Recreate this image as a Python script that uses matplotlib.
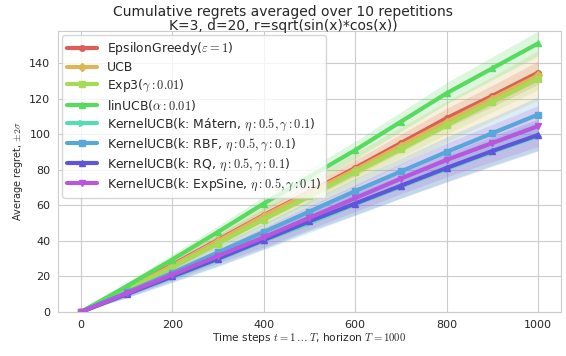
import matplotlib
matplotlib.use('Agg')
import matplotlib.pyplot as plt
import numpy as np
import seaborn as sns

steps = [0, 100, 200, 300, 400, 500, 600, 700, 800, 900, 1000]

labels = [
    r"EpsilonGreedy($\varepsilon=1$)",
    r"UCB",
    r"Exp3($\gamma:0.01$)",
    r"linUCB($\alpha:0.01$)",
    r"KernelUCB(k: Mátern, $\eta:0.5, \gamma:0.1$)",
    r"KernelUCB(k: RBF, $\eta:0.5, \gamma:0.1$)",
    r"KernelUCB(k: RQ, $\eta:0.5, \gamma:0.1$)",
    r"KernelUCB(k: ExpSine, $\eta:0.5, \gamma:0.1$)",
]
markers = ['o', 'D', 's', '^', '>', 's', '^', 'v']

# mean regret per algorithm
eps_greedy = [0, 13.0, 26.5, 40.5, 54.5, 67.5, 81.0, 95.0, 109.0, 121.5, 134.5]
ucb        = [0, 12.8, 26.0, 40.0, 54.0, 67.0, 80.0, 93.5, 107.0, 120.0, 133.0]
exp3       = [0, 12.5, 25.0, 38.5, 52.0, 65.0, 78.5, 91.5, 105.0, 118.0, 131.0]
linucb     = [0, 14.5, 29.5, 45.0, 61.0, 76.0, 91.0, 107.0, 123.0, 137.0, 151.0]
k_matern   = [0, 10.0, 19.5, 29.5, 40.0, 50.0, 60.5, 70.5, 80.5, 90.0, 99.0]
k_rbf      = [0, 11.0, 22.0, 33.5, 45.0, 56.5, 68.0, 79.0, 90.0, 100.5, 111.0]
k_rq       = [0, 10.0, 20.0, 30.0, 40.5, 51.0, 61.0, 71.0, 81.0, 90.5, 99.5]
k_expsine  = [0, 10.5, 21.0, 31.5, 42.0, 53.0, 64.0, 75.0, 85.5, 95.0, 104.5]

# half width of the +-2 sigma band
eps_greedy_err = [0, 1.5, 2.5, 3.0, 3.5, 4.0, 4.5, 5.0, 5.5, 6.0, 6.5]
ucb_err        = [0, 2.5, 4.0, 5.5, 7.0, 8.0, 9.5, 10.5, 11.5, 12.5, 14.0]
exp3_err       = [0, 1.5, 2.0, 2.5, 3.0, 3.5, 4.0, 4.5, 5.0, 5.5, 6.0]
linucb_err     = [0, 2.0, 3.0, 3.5, 4.0, 4.5, 5.0, 5.5, 6.0, 6.5, 7.0]
k_matern_err   = [0, 2.0, 3.0, 4.0, 5.0, 5.5, 6.0, 6.5, 7.0, 7.5, 8.0]
k_rbf_err      = [0, 2.0, 3.0, 4.0, 5.0, 6.0, 7.0, 7.5, 8.5, 9.0, 10.0]
k_rq_err       = [0, 2.0, 3.0, 4.0, 5.0, 5.5, 6.5, 7.0, 8.0, 8.5, 9.0]
k_expsine_err  = [0, 2.0, 3.0, 4.0, 5.5, 6.5, 7.5, 8.5, 9.5, 10.5, 11.5]

means = [eps_greedy, ucb, exp3, linucb, k_matern, k_rbf, k_rq, k_expsine]
errs = [eps_greedy_err, ucb_err, exp3_err, linucb_err,
        k_matern_err, k_rbf_err, k_rq_err, k_expsine_err]

sns.set_style('whitegrid')
plt.rcParams['mathtext.fontset'] = 'cm'
plt.rcParams['font.family'] = ['DejaVu Sans']
# palette was built for 9 algorithms, only 8 are shown
colors = sns.color_palette('hls', 9)[:len(labels)]

fig = plt.figure(figsize=(5.66, 3.56), dpi=100)
ax = fig.add_axes([0.1025, 0.1236, 0.8885, 0.7894])

t = np.array(steps)
for i in range(len(labels)):
    m = np.array(means[i])
    e = np.array(errs[i])
    ax.plot(t, m, color=colors[i], lw=3, marker=markers[i], markersize=4,
            label=labels[i])
    ax.fill_between(t, m - e, m + e, color=colors[i], alpha=0.2, lw=0)

ax.set_xlim(-50, 1050)
ax.set_ylim(0, 158)
ax.set_xticks([0, 200, 400, 600, 800, 1000])
ax.set_yticks([0, 20, 40, 60, 80, 100, 120, 140])
ax.tick_params(labelsize=8, pad=2)

ax.set_xlabel(r"Time steps $t = 1 \dots T$, horizon $T = 1000$", fontsize=7.7, labelpad=1)
ax.set_ylabel(r"Average regret, $\pm 2\sigma$", fontsize=7, labelpad=3)
fig.suptitle("Cumulative regrets averaged over 10 repetitions\nK=3, d=20, r=sqrt(sin(x)*cos(x))",
             fontsize=10, y=0.985, va='top', linespacing=1.0, color='0.15')

ax.legend(loc='upper left', fontsize=8.9, labelspacing=0.3, handlelength=2.4,
          borderaxespad=0.35, frameon=True)

fig.savefig('out.png', dpi=100)
plt.close(fig)
